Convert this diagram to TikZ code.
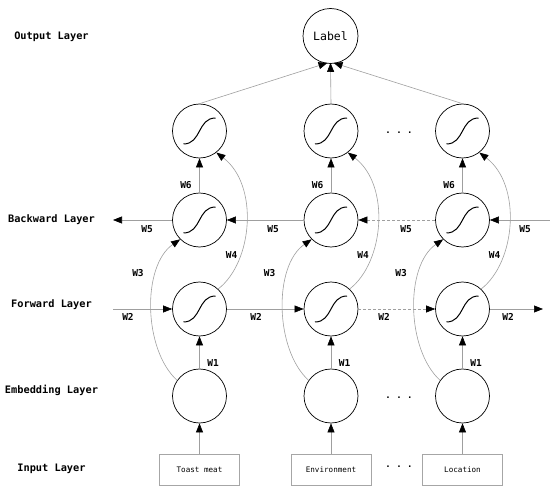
\documentclass[tikz,border=0pt]{standalone}
\usepackage{fontspec}
\setmonofont{DejaVu Sans Mono}
\usetikzlibrary{arrows.meta,calc}
\tikzset{
  neuron/.style={circle,draw=black,line width=0.7pt,minimum size=54pt,inner sep=0pt},
  inbox/.style={rectangle,draw=gray!70,line width=0.6pt,minimum width=80pt,minimum height=31pt,inner sep=0pt,font=\ttfamily\fontsize{7.6}{8}\selectfont},
  conn/.style={draw=gray!75,line width=0.6pt},
  arr/.style={conn,-{Triangle[length=9pt,width=7pt,color=black]}},
  dashconn/.style={arr,dash pattern=on 3pt off 2pt},
  layerlab/.style={font=\ttfamily\bfseries\fontsize{10.3}{12}\selectfont},
  wlab/.style={font=\ttfamily\bfseries\fontsize{9.5}{11}\selectfont,inner sep=0pt},
  dotslab/.style={font=\ttfamily\bfseries\fontsize{9}{10}\selectfont,inner sep=0pt},
  sigm/.pic={\draw[line width=1pt,black] (-16pt,-13pt) .. controls (2pt,-13pt) and (-2pt,13pt) .. (16pt,13pt);}
}
\begin{document}
\begin{tikzpicture}[x=1pt,y=-1pt]
\useasboundingbox (0,0) rectangle (550,495);
% layer labels
\node[layerlab] (lo) at (51.5,37) {Output Layer};
\node[layerlab] (lb) at (51.5,220) {Backward Layer};
\node[layerlab] (lf) at (51.5,305) {Forward Layer};
\node[layerlab] (le) at (51.5,390) {Embedding Layer};
\node[layerlab] (li) at (51.5,469) {Input Layer};
% label node
\node[neuron,minimum size=55pt,font=\ttfamily\fontsize{11.5}{12}\selectfont] (lab) at (330.5,36) {Label};
\coordinate (labL) at ($(lab.south)+(-3,-1)$);
\coordinate (labM) at ($(lab.south)+(0,-1)$);
\coordinate (labR) at ($(lab.south)+(3,-1)$);
% columns
\foreach \i/\x/\txt in {1/199.5/Toast meat,2/331/Environment,3/462.5/Location}{
  \node[neuron] (t\i) at (\x,131) {};
  \node[neuron] (b\i) at (\x,220) {};
  \node[neuron] (f\i) at (\x,309) {};
  \node[neuron] (e\i) at (\x,396) {};
  \node[inbox] (i\i) at (\x,469.5) {\txt};
  \pic at (t\i) {sigm};
  \pic at (b\i) {sigm};
  \pic at (f\i) {sigm};
  \draw[arr] (i\i) -- (e\i);
  \draw[arr] (e\i) -- (f\i);
  \draw[arr] (b\i) -- (t\i);
  \draw[arr] (e\i.145) .. controls ($(e\i)+(-56,-46)$) and ($(b\i)+(-58,46)$) .. (b\i.225);
  \draw[arr] (f\i.47) .. controls ($(f\i)+(53.5,-47)$) and ($(t\i)+(59.5,54)$) .. (t\i.308);
  \node[wlab] (w1\i) at (\x+13.5,363) {W1};
  \node[wlab] (w3\i) at (\x-61.5,273) {W3};
  \node[wlab] (w4\i) at (\x+32,255) {W4};
  \node[wlab] (w6\i) at (\x-13.5,185) {W6};
}
% to label
\draw[arr] (t1.north) -- (labL);
\draw[arr] (t2.north) -- (labM);
\draw[arr] (t3.north) -- (labR);
% backward layer
\coordinate (bR) at (550,220);
\coordinate (bL) at (113,220);
\draw[arr] (bR) -- (b3.east);
\draw[dashconn] (b3.west) -- (b2.east);
\draw[arr] (b2.west) -- (b1.east);
\draw[arr] (b1.west) -- (bL);
% forward layer
\coordinate (fL) at (113,309);
\coordinate (fR) at (543,309);
\draw[arr] (fL) -- (f1.west);
\draw[arr] (f1.east) -- (f2.west);
\draw[dashconn] (f2.east) -- (f3.west);
\draw[arr] (f3.east) -- (fR);
% W5 / W2 labels
\node[wlab] (w5a) at (147,229) {W5};
\node[wlab] (w5b) at (273,229) {W5};
\node[wlab] (w5c) at (406,229) {W5};
\node[wlab] (w5d) at (525,229) {W5};
\node[wlab] (w2a) at (128,317) {W2};
\node[wlab] (w2b) at (256,317) {W2};
\node[wlab] (w2c) at (384,317) {W2};
\node[wlab] (w2d) at (508,317) {W2};
% dots
\node[dotslab] (d1) at (399,133) {. . .};
\node[dotslab] (d2) at (399,398) {. . .};
\node[dotslab] (d3) at (399,467) {. . .};
\end{tikzpicture}
\end{document}
